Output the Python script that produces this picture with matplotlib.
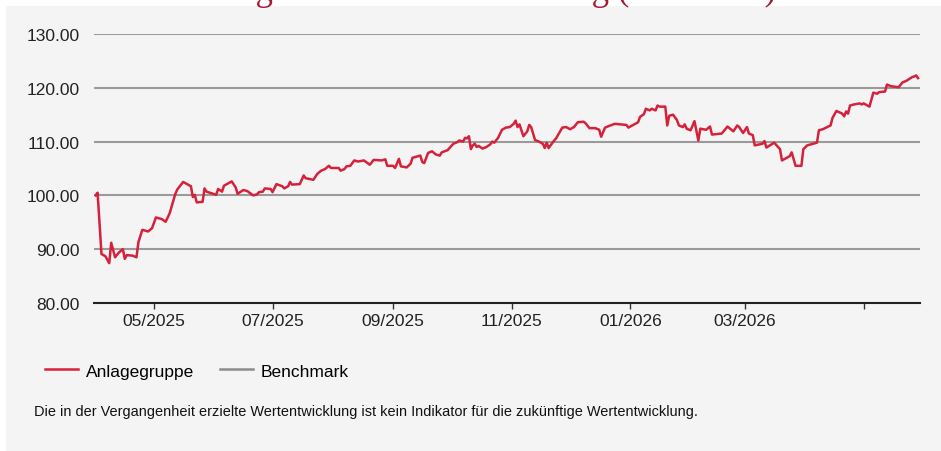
"""
Wertentwicklung Anlagegruppe vs. Benchmark, indexed line chart.
"""

import matplotlib
matplotlib.use("Agg")
import matplotlib.pyplot as plt
import matplotlib.dates as mdates
from matplotlib.patches import Rectangle
from matplotlib.lines import Line2D
import pandas as pd

# ── Data ──────────────────────────────────────────────────────────────────────
START = pd.Timestamp("2025-03-31")

# days since START
day = [1, 2, 4, 6, 8, 9, 11, 13, 15, 16, 17, 20, 22, 23, 25, 28, 30, 32, 35, 37,
       39, 42, 43, 46, 50, 51, 52, 53, 56, 57, 58, 63, 64, 66, 67, 71, 73, 74, 77, 79,
       82, 84, 85, 87, 88, 91, 92, 94, 97, 98, 100, 101, 102, 106, 108, 109, 113, 115, 117, 119,
       121, 122, 126, 127, 129, 130, 132, 134, 136, 139, 142, 144, 148, 150, 151, 154, 155, 157, 158, 161,
       163, 164, 168, 169, 170, 172, 174, 176, 178, 179, 182, 185, 187, 188, 190, 191, 192, 193, 194, 195,
       196, 197, 198, 200, 202, 204, 205, 206, 208, 210, 212, 214, 216, 217, 218, 219, 221, 223, 224, 225,
       227, 229, 231, 232, 233, 234, 236, 238, 241, 243, 245, 247, 249, 252, 253, 255, 258, 260, 261, 263,
       265, 268, 274, 275, 278, 280, 281, 283, 284, 286, 287, 289, 290, 291, 294, 295, 296, 298, 300, 301,
       303, 304, 305, 307, 309, 311, 312, 315, 317, 318, 323, 326, 329, 331, 332, 334, 336, 337, 339, 340,
       344, 345, 346, 350, 353, 354, 358, 359, 361, 364, 365, 367, 372, 373, 375, 379, 380, 382, 385, 386,
       387, 388, 389, 391, 394, 395, 396, 399, 401, 403, 404, 407, 408, 410, 414, 416, 418, 421, 422, 423,
       424]

anlagegruppe = [100.0, 100.5, 89.1, 88.7, 87.4, 91.2, 88.5, 89.4, 90.0, 88.2, 88.9, 88.8, 88.5, 91.3, 93.6, 93.3, 93.9, 95.9, 95.6, 95.1,
                96.6, 100.3, 101.1, 102.5, 101.7, 99.7, 100.1, 98.7, 98.8, 101.3, 100.7, 100.1, 101.2, 100.7, 101.8, 102.6, 101.5, 100.3, 101.0, 100.8,
                100.0, 100.2, 100.6, 100.7, 101.3, 101.2, 100.6, 102.1, 101.7, 101.3, 101.7, 102.5, 102.0, 102.1, 103.7, 103.2, 102.9, 104.0, 104.6, 104.9,
                105.5, 105.1, 105.1, 104.6, 104.9, 105.4, 105.5, 106.5, 106.3, 106.5, 105.7, 106.6, 106.5, 106.7, 105.5, 105.5, 105.1, 106.8, 105.4, 105.2,
                105.9, 107.0, 107.4, 106.2, 106.0, 107.9, 108.2, 107.6, 107.4, 108.0, 108.4, 109.6, 109.9, 110.2, 110.0, 110.7, 110.6, 111.0, 108.6, 109.3,
                109.6, 109.0, 109.2, 108.7, 109.0, 109.5, 110.0, 109.8, 110.7, 112.2, 112.6, 112.7, 113.3, 113.9, 112.7, 113.2, 111.0, 111.9, 113.1, 112.7,
                110.3, 110.0, 109.6, 108.8, 109.8, 108.8, 109.8, 110.7, 112.6, 112.7, 112.3, 112.7, 113.6, 113.7, 113.4, 112.5, 112.5, 112.2, 110.9, 112.6,
                112.9, 113.3, 113.1, 112.6, 113.2, 113.6, 114.6, 115.1, 116.1, 115.8, 116.1, 115.8, 116.7, 116.5, 116.5, 113.0, 114.8, 115.0, 114.0, 113.0,
                112.7, 113.2, 112.4, 112.1, 113.8, 110.2, 112.4, 112.2, 112.8, 111.3, 111.5, 112.8, 111.9, 113.0, 112.7, 111.6, 112.7, 111.5, 111.2, 109.3,
                109.6, 110.1, 108.9, 109.8, 108.6, 106.5, 107.3, 108.0, 105.5, 105.5, 108.6, 109.3, 109.8, 112.1, 112.3, 113.0, 114.4, 115.7, 115.2, 114.7,
                115.6, 115.2, 116.7, 116.9, 117.1, 116.9, 117.1, 116.5, 119.1, 118.9, 119.2, 119.3, 120.6, 120.3, 120.1, 121.0, 121.3, 122.0, 122.1, 122.3,
                121.8]

tick_months = ["2025-05-01", "2025-07-01", "2025-09-01", "2025-11-01",
               "2026-01-01", "2026-03-01", "2026-05-01"]
tick_labels = ["05/2025", "07/2025", "09/2025", "11/2025", "01/2026", "03/2026", ""]
y_ticks = [80, 90, 100, 110, 120, 130]

dates = START + pd.to_timedelta(day, unit="D")

# ── Style ──────────────────────────────────────────────────────────────────────
RED = "#d5213a"
GREY = "#8c8c8c"
PANEL = "#f4f4f4"
plt.rcParams["font.family"] = ["Liberation Sans", "DejaVu Sans"]

W, H = 941, 452
fig = plt.figure(figsize=(W / 100, H / 100), dpi=100)
fig.patch.set_facecolor("white")
fig.add_artist(Rectangle((6 / W, 0), 1, 1 - 7 / H, transform=fig.transFigure,
                         facecolor=PANEL, edgecolor="none", zorder=0))

# title, mostly cut off at the top edge of the picture
fig.text(34 / W, 1.0, "Wertentwicklung in CHF seit Lancierung (kumuliert)", color="#a3192f",
         family="Liberation Serif", fontsize=25, va="baseline", ha="left")

ax = fig.add_axes([93.7 / W, 1 - 304 / H, (920 - 93.7) / W, (304 - 35) / H])
ax.set_facecolor(PANEL)

ax.plot(dates, anlagegruppe, color=RED, lw=1.8, zorder=3)

ax.set_ylim(80, 130)
ax.set_yticks(y_ticks)
ax.set_yticklabels([f"{v:.2f}" for v in y_ticks])
ax.yaxis.grid(True, color="#9a9a9a", lw=1.5)
ax.set_axisbelow(True)

ax.set_xlim(mdates.date2num(START), mdates.date2num(START + pd.Timedelta(days=425)))
ax.set_xticks(mdates.date2num(pd.to_datetime(tick_months)))
ax.set_xticklabels(tick_labels)

for s in ("top", "right", "left"):
    ax.spines[s].set_visible(False)
ax.spines["bottom"].set_color("#222222")
ax.spines["bottom"].set_linewidth(1.5)
ax.tick_params(axis="y", length=0, pad=10, labelsize=12.5, labelcolor="#222222")
ax.tick_params(axis="x", length=4, width=1, color="#333333", pad=3,
               labelsize=12.5, labelcolor="#222222")

# legend
handles = [Line2D([], [], color=RED, lw=1.8), Line2D([], [], color=GREY, lw=1.8)]
fig.legend(handles, ["Anlagegruppe", "Benchmark"], loc="center left",
           bbox_to_anchor=(29 / W, 1 - 372 / H), ncol=2, frameon=False,
           fontsize=12.5, handlelength=1.9, handletextpad=0.46, columnspacing=1.5)

fig.text(34 / W, 1 - 412 / H,
         "Die in der Vergangenheit erzielte Wertentwicklung ist kein Indikator für die zukünftige Wertentwicklung.",
         fontsize=10.45, va="center", ha="left", color="#111111")

fig.savefig("out.png", dpi=100, facecolor=fig.get_facecolor())
print("Saved: out.png")
